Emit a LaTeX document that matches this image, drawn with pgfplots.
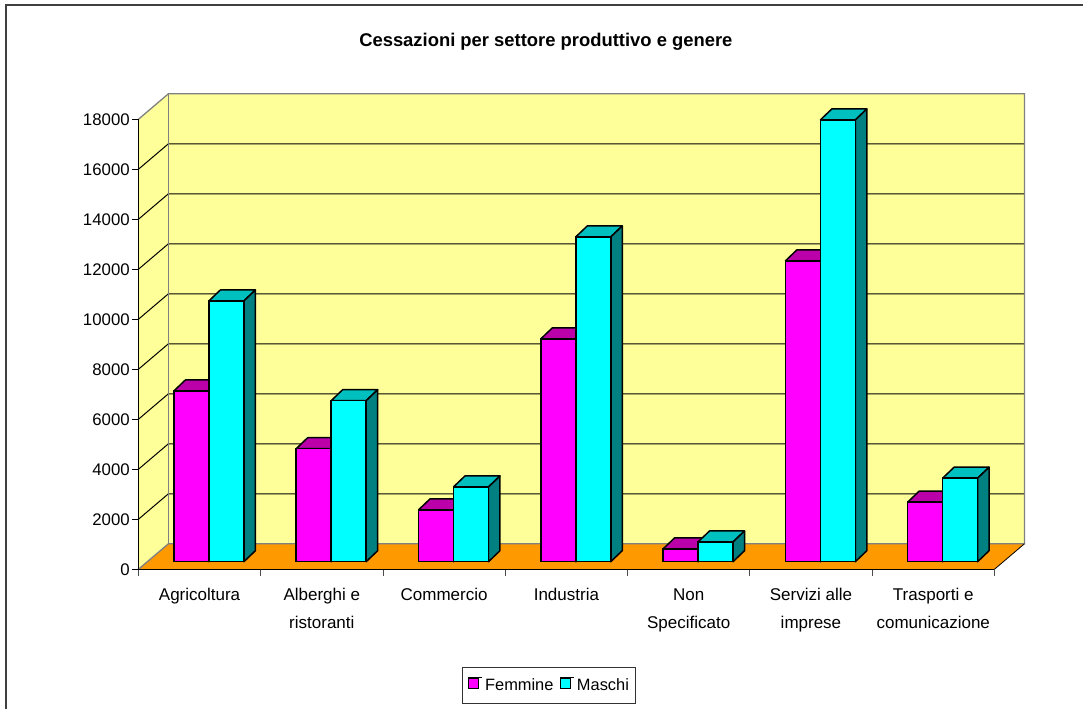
\documentclass[border=0pt]{standalone}
\usepackage{pgfplots}
\usepackage{pgfplotstable}
\usepackage{fontspec}
\setmainfont{Liberation Sans}
\pgfplotsset{compat=1.18}

\definecolor{wall}{HTML}{FFFF99}
\definecolor{floorc}{HTML}{FF9900}
\definecolor{edgec}{HTML}{808080}
\definecolor{fem}{HTML}{FF00FF}
\definecolor{femtop}{HTML}{BB00AA}
\definecolor{mas}{HTML}{00FFFF}
\definecolor{mastop}{HTML}{00BFBF}
\definecolor{masside}{HTML}{008080}

% values
\pgfplotstableread{
fem mas
6830 10430
4520 6440
2070 2990
8910 12990
510 790
12030 17670
2380 3340
}\cessazioni

% 1pt = 1 pixel of the reference; x: 122.29pt per category, y: 40 units per pt
\newcommand\dpx{0.094}   % depth of a bar, categories
\newcommand\dpy{440}     % depth of a bar, y units
\newcommand\lift{304}    % bars stand 7.6pt above the front edge of the floor

% top and right face of one bar: x0, x1, value, top colour, side colour
% y sums go through \numexpr, pgfmath overflows above 16383
\newcommand\barfaces[5]{%
  \pgfmathsetmacro\xa{#1}%
  \pgfmathsetmacro\xb{#2}%
  \pgfmathsetmacro\xc{#1+\dpx}%
  \pgfmathsetmacro\xd{#2+\dpx}%
  \edef\ya{\the\numexpr#3+\lift\relax}%
  \edef\yb{\the\numexpr#3+\lift+\dpy\relax}%
  \edef\yc{\lift}%
  \edef\yd{\the\numexpr\lift+\dpy\relax}%
  \edef\temp{\noexpand\addplot[forget plot,draw=black,line width=1.5pt,line join=round,fill=#4] coordinates {(\xa,\ya)(\xc,\yb)(\xd,\yb)(\xb,\ya)(\xa,\ya)};
    \noexpand\addplot[forget plot,draw=black,line width=1.5pt,line join=round,fill=#5] coordinates {(\xb,\ya)(\xd,\yb)(\xd,\yd)(\xb,\yc)(\xb,\ya)};}%
  \temp
}

\begin{document}
\begin{tikzpicture}
\useasboundingbox (-138.4pt,-139.7pt) rectangle (944.6pt,569.3pt);
\draw[line width=1.3pt,black!75] (-132.4pt,-139.7pt) -- (-132.4pt,564.3pt) -- (944.6pt,564.3pt);
\begin{axis}[
  at={(0pt,0pt)}, anchor=south west,
  scale only axis, width=856pt, height=450pt,
  xmin=0, xmax=7, ymin=0, ymax=18000,
  clip=false, axis on top,
  axis x line=bottom, axis y line=left,
  axis line style={-,black,line width=1pt},
  tick align=outside,
  scaled y ticks=false,
  xtick={0.5,1.5,2.5,3.5,4.5,5.5,6.5},
  minor xtick={0,1,2,3,4,5,6,7},
  xticklabels={{Agricoltura\\~},{Alberghi e\\ristoranti},{Commercio\\~},{Industria\\~},{Non\\Specificato},{Servizi alle\\imprese},{Trasporti e\\comunicazione}},
  major x tick style={draw=none},
  minor x tick style={black!70,line width=0.8pt},
  minor tick length=7pt,
  major tick length=6.5pt,
  ytick={0,2000,4000,6000,8000,10000,12000,14000,16000,18000},
  ytick style={black,line width=0.8pt},
  /pgf/number format/assume math mode=true,
  /pgf/number format/1000 sep={},
  yticklabel style={font=\fontsize{16.8}{20}\selectfont,inner sep=1pt,xshift=-1pt},
  xticklabel style={font=\fontsize{17}{28}\selectfont,align=center,anchor=north,yshift=-9pt},
  title={Cessazioni per settore produttivo e genere},
  title style={font=\fontsize{18.4}{22}\selectfont\bfseries,at={(0.476,1.158)},anchor=center},
  legend style={at={(0.480,-0.2578)},anchor=center,legend columns=2,draw=black!80,line width=1pt,
    font=\fontsize{16.4}{20}\selectfont,inner xsep=5pt,inner ysep=9pt,
    /tikz/every even column/.append style={column sep=4pt}},
  legend image code/.code={\draw[#1,line width=1pt] (0pt,-11pt) rectangle (10pt,-1pt); \path (0pt,0pt) -- (14pt,0pt);},
]
% walls and floor
\addplot[forget plot,draw=none,fill=wall] coordinates {(0.2453,1020)(7.2453,1020)(7.2453,19020)(0.2453,19020)(0.2453,1020)};
\addplot[forget plot,draw=none,fill=wall] coordinates {(0,0)(0.2453,1020)(0.2453,19020)(0,18000)(0,0)};
\addplot[forget plot,draw=none,fill=floorc] coordinates {(0,0)(7,0)(7.2453,1020)(0.2453,1020)(0,0)};
% grid lines on both walls
\pgfplotsforeachungrouped \g in {2000,4000,6000,8000,10000,12000,14000,16000}{%
  \edef\gb{\the\numexpr\g+1020\relax}%
  \edef\temp{\noexpand\addplot[forget plot,black,line width=1pt] coordinates {(0,\g)(0.2453,\gb)(7.2453,\gb)};}%
  \temp
}
\addplot[forget plot,edgec,line width=1.3pt] coordinates {(0,18000)(0.2453,19020)(7.2453,19020)(7.2453,1020)(0.2453,1020)(0,0)};
\addplot[forget plot,edgec,line width=1.3pt] coordinates {(0.2453,1020)(0.2453,19020)};
\addplot[forget plot,black,line width=0.8pt] coordinates {(7,0)(7.2453,1020)};
% femmine
\pgfplotsforeachungrouped \i in {0,...,6}{%
  \pgfplotstablegetelem{\i}{fem}\of\cessazioni
  \edef\v{\pgfplotsretval}%
  \barfaces{\i+0.2903}{\i+0.5765}{\v}{femtop}{femtop}%
}
\addplot[ybar,bar width=35pt,bar shift=0pt,yshift=7.6pt,draw=black,line width=1.5pt,fill=fem]
  table[x expr=\coordindex+0.4334,y=fem] {\cessazioni};
\addlegendentry{Femmine}
% maschi
\pgfplotsforeachungrouped \i in {0,...,6}{%
  \pgfplotstablegetelem{\i}{mas}\of\cessazioni
  \edef\v{\pgfplotsretval}%
  \barfaces{\i+0.5765}{\i+0.8627}{\v}{mastop}{masside}%
}
\addplot[ybar,bar width=35pt,bar shift=0pt,yshift=7.6pt,draw=black,line width=1.5pt,fill=mas]
  table[x expr=\coordindex+0.7196,y=mas] {\cessazioni};
\addlegendentry{Maschi}
\end{axis}
\end{tikzpicture}
\end{document}
